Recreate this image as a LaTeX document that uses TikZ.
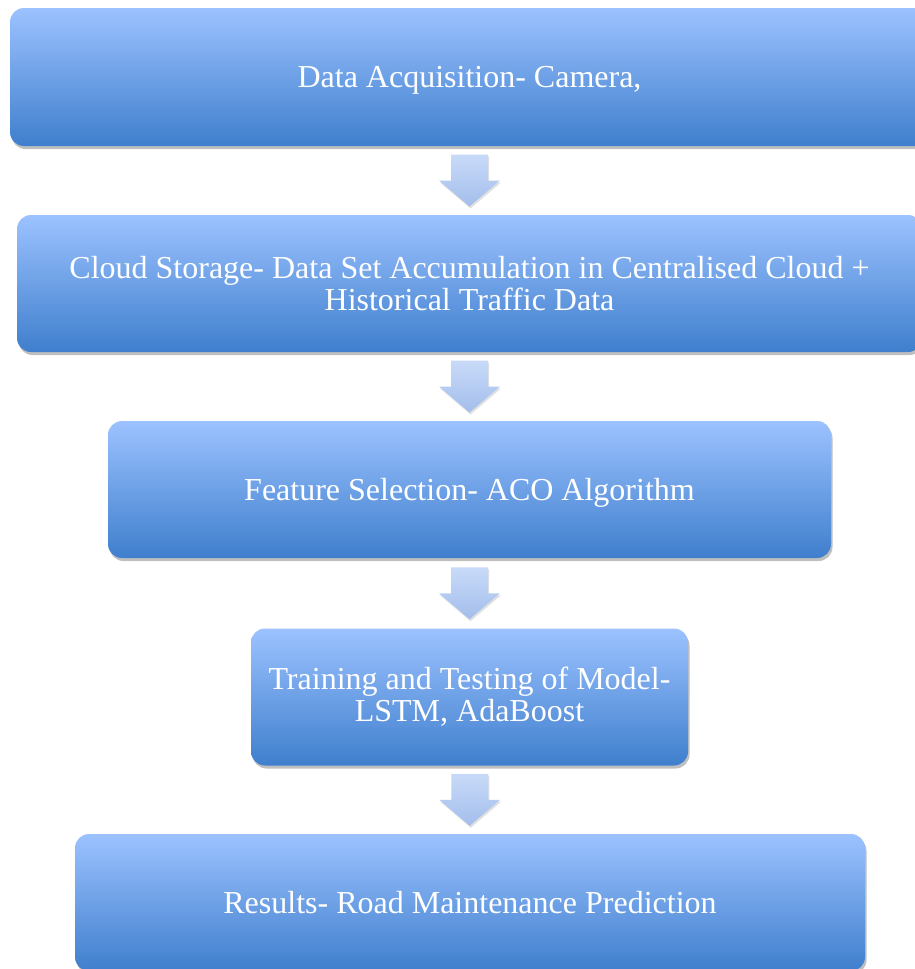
\documentclass[tikz,border=0pt]{standalone}
\usepackage{fontspec}
\setmainfont{Liberation Serif}
\usetikzlibrary{shadows,calc}
\definecolor{boxtop}{HTML}{9CC2FF}
\definecolor{boxbot}{HTML}{3F7FCD}
\definecolor{arrtop}{HTML}{C8DAF8}
\definecolor{arrbot}{HTML}{A3BEEC}
\begin{document}
\begin{tikzpicture}[x=1pt,y=-1pt,
  stagebox/.style={rectangle, rounded corners=14pt, top color=boxtop, bottom color=boxbot,
    text=white, font=\fontsize{32}{32}\selectfont, align=center, inner sep=0pt,
    minimum height=137pt,
    drop shadow={shadow xshift=1.5pt, shadow yshift=-3pt, opacity=0.25, fill=black}},
  flowarrow/.style={top color=arrtop, bottom color=arrbot, draw=none,
    drop shadow={shadow xshift=1pt, shadow yshift=-2pt, opacity=0.12, fill=black}}
]
\useasboundingbox (0,0) rectangle (914,969);
\fill[white] (0,0) rectangle (914,969);

\node[stagebox, minimum width=919pt, minimum height=138pt, text depth=0pt] (b1) at (469.5,77) {Data Acquisition- Camera,};
\node[stagebox, minimum width=905pt] (b2) at (469.5,283.5) {Cloud Storage- Data Set Accumulation in Centralised Cloud +\\Historical Traffic Data};
\node[stagebox, minimum width=723pt, text depth=0pt] (b3) at (469.5,489.5) {Feature Selection- ACO Algorithm};
\node[stagebox, minimum width=437pt] (b4) at (469.5,697) {Training and Testing of Model-\\LSTM, AdaBoost};
\node[stagebox, minimum width=790pt] (b5) at (470,902.5) {Results- Road Maintenance Prediction};

\foreach \a/\b [count=\i] in {b1/b2,b2/b3,b3/b4,b4/b5}{
  \coordinate (m\i) at ($(\a.south)!0.5!(\b.north)$);
  \path[flowarrow] ($(m\i)+(-18.5,-26)$) -- ($(m\i)+(18.5,-26)$) -- ($(m\i)+(18.5,0)$)
    -- ($(m\i)+(30.5,0)$) -- ($(m\i)+(0,26)$) -- ($(m\i)+(-30.5,0)$) -- ($(m\i)+(-18.5,0)$) -- cycle;
}
\end{tikzpicture}
\end{document}
